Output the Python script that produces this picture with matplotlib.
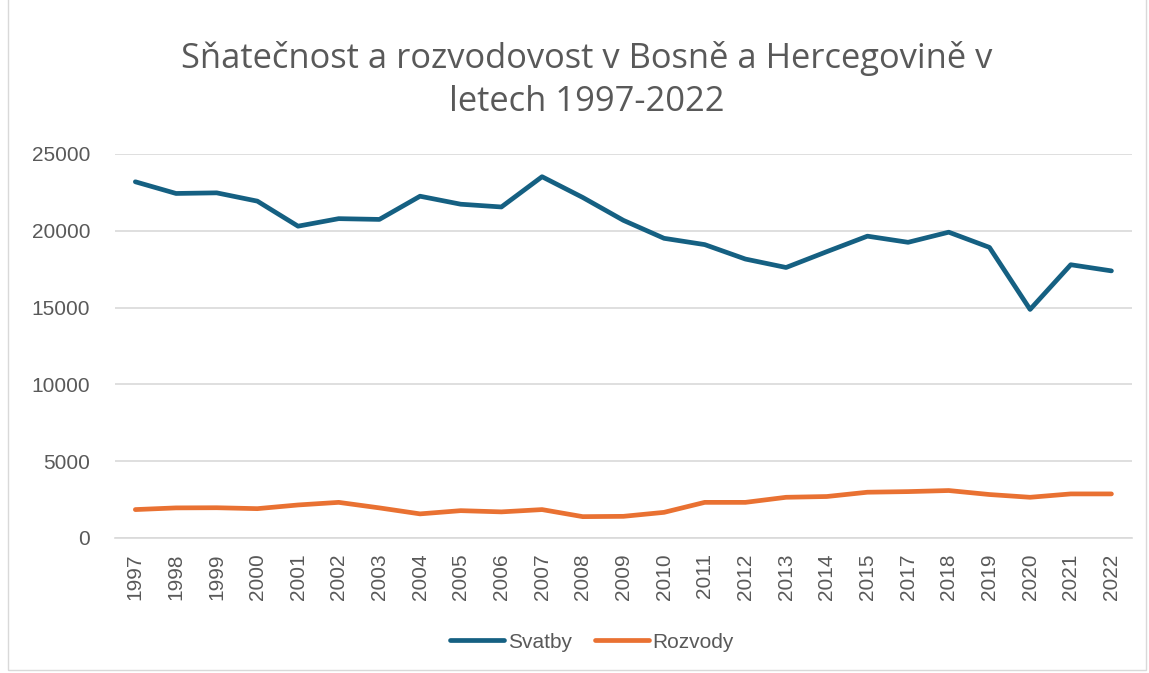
import matplotlib
matplotlib.use('Agg')
from matplotlib import pyplot as plt
from matplotlib.patches import Rectangle

plt.rcParams['font.family'] = ['Liberation Sans', 'DejaVu Sans']

years = ['1997', '1998', '1999', '2000', '2001', '2002', '2003', '2004', '2005',
         '2006', '2007', '2008', '2009', '2010', '2011', '2012', '2013', '2014',
         '2015', '2017', '2018', '2019', '2020', '2021', '2022']

svatby = [23190, 22430, 22470, 21930, 20300, 20790, 20740, 22250, 21730,
          21550, 23520, 22170, 20680, 19510, 19100, 18160, 17610, 18640,
          19650, 19250, 19910, 18920, 14880, 17790, 17390]

rozvody = [1850, 1960, 1970, 1910, 2150, 2320, 1960, 1570, 1780,
           1700, 1850, 1390, 1410, 1670, 2320, 2320, 2650, 2700,
           2980, 3020, 3090, 2830, 2650, 2870, 2870]

blue = '#156082'
orange = '#E97132'
grey = '#595959'

fig = plt.figure(figsize=(11.49, 6.73), dpi=100)
ax = fig.add_axes([0.1001, 0.2006, 0.8849, 0.5706])

x = list(range(len(years)))
ax.plot(x, svatby, color=blue, lw=3.4, solid_capstyle='round', solid_joinstyle='round', label='Svatby')
ax.plot(x, rozvody, color=orange, lw=3.4, solid_capstyle='round', solid_joinstyle='round', label='Rozvody')

ax.set_xlim(-0.5, len(years) - 0.5)
ax.set_ylim(0, 25000)
ax.set_yticks(range(0, 25001, 5000))
ax.set_xticks(x)
ax.set_xticklabels(years, rotation=90)
ax.tick_params(axis='both', labelsize=15, colors=grey, length=0)
ax.tick_params(axis='y', pad=18)
ax.tick_params(axis='x', pad=11)
ax.grid(axis='y', color='#d9d9d9', lw=1.2)
ax.set_axisbelow(True)
for s in ['top', 'right', 'left']:
    ax.spines[s].set_visible(False)
ax.spines['bottom'].set_color('#d9d9d9')
ax.spines['bottom'].set_linewidth(1.2)

fig.text(0.511, 0.881, 'Sňatečnost a rozvodovost v Bosně a Hercegovině v\nletech 1997-2022',
         ha='center', va='center', fontsize=24.8, color=grey, linespacing=1.33,
         family=['Open Sans', 'DejaVu Sans'])

fig.legend(loc='center', bbox_to_anchor=(0.515, 0.046), ncol=2, frameon=False,
           fontsize=15, labelcolor=grey, handlelength=2.6, handletextpad=0.15,
           columnspacing=1.1)

fig.add_artist(Rectangle((0.007, 0.004), 0.99, 1.2, transform=fig.transFigure,
                         fill=False, edgecolor='#d9d9d9', lw=1))

fig.savefig('out.png', dpi=100)
